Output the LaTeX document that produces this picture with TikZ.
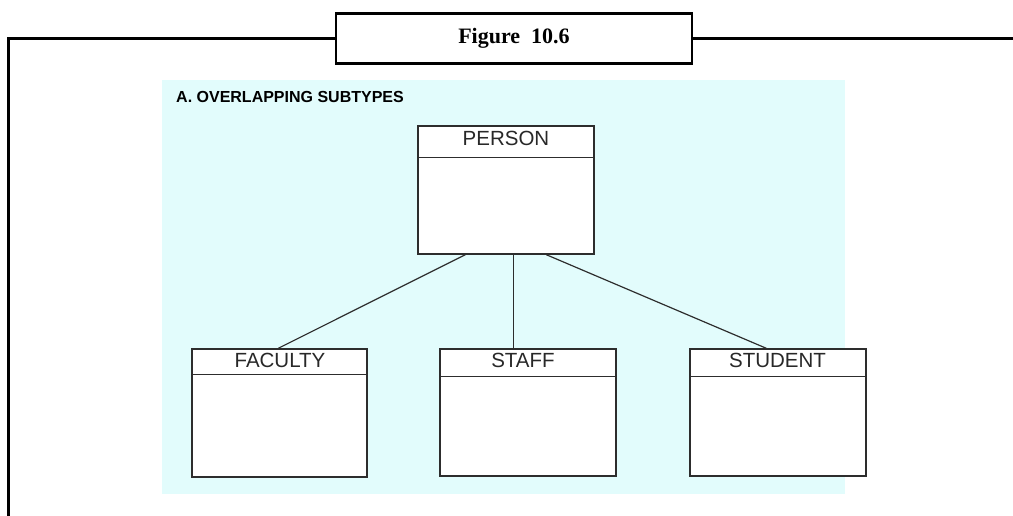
\documentclass[tikz,border=0pt]{standalone}
\usepackage{fontspec}
\setmainfont{Liberation Serif}
\newfontfamily\arialf{Liberation Sans}
\definecolor{bgcyan}{RGB}{226,252,252}
\definecolor{boxline}{RGB}{45,45,45}
\definecolor{txtgray}{RGB}{40,40,40}
\tikzset{
  frameline/.style={line width=3pt, black},
  titlebox/.style={draw=black, line width=2.5pt, fill=white, minimum width=356pt, minimum height=50pt,
    inner sep=0pt, text height=15pt, text depth=4pt, font=\bfseries\fontsize{22}{25}\selectfont},
  entbox/.style={draw=boxline, line width=1.4pt, fill=white, inner sep=0pt},
  hdrtext/.style={anchor=base, inner sep=0pt, text=txtgray, font=\arialf\fontsize{20.5}{24}\selectfont},
  conn/.style={draw=boxline, line width=1.2pt}
}
\begin{document}
\begin{tikzpicture}[x=1pt,y=-1pt]
\useasboundingbox (0,0) rectangle (1013,516);
% background panel
\fill[bgcyan] (162,80) rectangle (845,494);
% title and frame
\node[titlebox] (title) at (514,38.5) {Figure\ \ 10.6};
\coordinate (fl) at (8,516);
\coordinate (fr) at (1013,38.5);
\draw[frameline] (fl) |- (title.west);
\draw[frameline] (title.east) -- (fr);
% panel label
\node[anchor=base west, inner sep=0pt, text=black, font=\arialf\bfseries\fontsize{16}{20}\selectfont] (lbl) at (176,102.5) {A. OVERLAPPING SUBTYPES};
% entities
\node[entbox, minimum width=176pt, minimum height=128pt] (person) at (506,190) {};
\draw[boxline, line width=1.4pt] ([yshift=-32pt]person.north west) -- ([yshift=-32pt]person.north east);
\node[hdrtext] (personT) at (506,146) {PERSON};

\node[entbox, minimum width=175pt, minimum height=128pt] (fac) at (279.5,413) {};
\draw[boxline, line width=1.4pt] ([yshift=-26pt]fac.north west) -- ([yshift=-26pt]fac.north east);
\node[hdrtext] (facT) at (280,367) {FACULTY};

\node[entbox, minimum width=176pt, minimum height=127pt] (staff) at (528,412.5) {};
\draw[boxline, line width=1.4pt] ([yshift=-28pt]staff.north west) -- ([yshift=-28pt]staff.north east);
\node[hdrtext] (staffT) at (523,367) {STAFF};

\node[entbox, minimum width=176pt, minimum height=127pt] (stu) at (778,412.5) {};
\draw[boxline, line width=1.4pt] ([yshift=-28pt]stu.north west) -- ([yshift=-28pt]stu.north east);
\node[hdrtext] (stuT) at (777.5,367) {STUDENT};
% connectors
\draw[conn] ([xshift=48pt]person.south west) -- ([xshift=87pt]fac.north west);
\draw[conn] ([xshift=96pt]person.south west) -- ([xshift=74pt]staff.north west);
\draw[conn] ([xshift=129pt]person.south west) -- ([xshift=77pt]stu.north west);
\end{tikzpicture}
\end{document}
